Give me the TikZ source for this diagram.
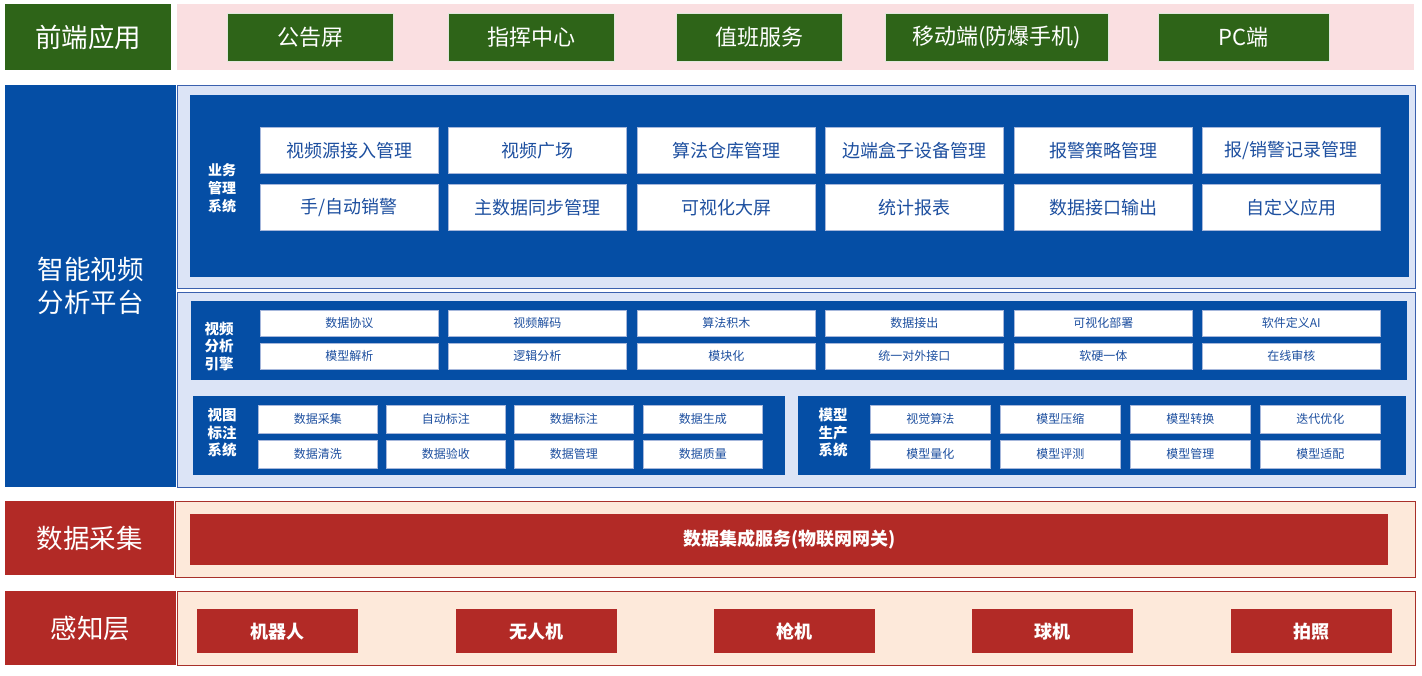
\documentclass[tikz,border=0pt]{standalone}
\usepackage{fontspec}
\setmainfont{Noto Sans CJK SC}
\usepackage{tikz}
\definecolor{frontgreen}{HTML}{2E6418}
\definecolor{frontpink}{HTML}{FADFE1}
\definecolor{platblue}{HTML}{054EA5}
\definecolor{platlight}{HTML}{DCE4F6}
\definecolor{platline}{HTML}{3A60AE}
\definecolor{textblue}{HTML}{1D4F9F}
\definecolor{datared}{HTML}{B22A26}
\definecolor{datapeach}{HTML}{FDE9DA}
\definecolor{dataline}{HTML}{A8302A}
\tikzset{
  layer/.style={anchor=north west, inner sep=0pt, text=white, align=center,
    font=\fontsize{26.5}{33}\selectfont},
  panel/.style={anchor=north west, inner sep=0pt},
  gbox/.style={anchor=north west, inner sep=0pt, fill=frontgreen, draw=white!85!frontgreen,
    line width=0.6pt, text=white, minimum height=48pt, font=\fontsize{22}{25}\selectfont},
  wbox/.style={anchor=north west, inner sep=0pt, fill=white, draw=platline!45,
    line width=0.6pt, text=textblue},
  sysname/.style={text=white, align=center, inner sep=0pt,
    font=\bfseries\fontsize{14.5}{17.5}\selectfont},
  rbox/.style={anchor=north west, inner sep=0pt, fill=datared, text=white,
    font=\bfseries\fontsize{18}{21}\selectfont}
}

\begin{document}
\begin{tikzpicture}[x=1pt,y=-1pt]
\useasboundingbox (0,0) rectangle (1422,675);

% front-end layer
\node [layer, fill=frontgreen, minimum width=166pt, minimum height=66pt] (front) at (5,4) {前端应用};
\node [panel, fill=frontpink, minimum width=1237pt, minimum height=66pt] (fpanel) at (177,4) {};
\node [gbox, minimum width=166pt] (board) at (227,13) {公告屏};
\node [gbox, minimum width=166pt] (command) at (448,13) {指挥中心};
\node [gbox, minimum width=166pt] (duty) at (676,13) {值班服务};
\node [gbox, minimum width=223pt] (mobile) at (885,13) {移动端(防爆手机)};
\node [gbox, minimum width=171pt] (pc) at (1158,13) {PC端};

% platform layer
\node [layer, fill=platblue, minimum width=171pt, minimum height=402pt] (platform) at (5,85) {智能视频\\分析平台};
\node [panel, fill=platlight, draw=platline, line width=0.8pt, minimum width=1238pt, minimum height=203pt] (upanel) at (177,85) {};
\node [panel, fill=platlight, draw=platline, line width=0.8pt, minimum width=1238pt, minimum height=195pt] (lpanel) at (177,292) {};

% business management system
\node [panel, fill=platblue, minimum width=1219pt, minimum height=182pt] (bizbox) at (190,95) {};
\node [sysname, font=\bfseries\fontsize{14}{18}\selectfont] (bizname) at (222,188) {业务\\管理\\系统};
\node [wbox, minimum width=178pt, minimum height=46pt, font=\fontsize{18}{21}\selectfont] (source) at (260,127) {视频源接入管理};
\node [wbox, minimum width=178pt, minimum height=46pt, font=\fontsize{18}{21}\selectfont] (square) at (448,127) {视频广场};
\node [wbox, minimum width=178pt, minimum height=46pt, font=\fontsize{18}{21}\selectfont] (store) at (637,127) {算法仓库管理};
\node [wbox, minimum width=178pt, minimum height=46pt, font=\fontsize{18}{21}\selectfont] (edgebox) at (825,127) {边端盒子设备管理};
\node [wbox, minimum width=178pt, minimum height=46pt, font=\fontsize{18}{21}\selectfont] (policy) at (1014,127) {报警策略管理};
\node [wbox, minimum width=178pt, minimum height=46pt, font=\fontsize{18}{21}\selectfont] (record) at (1202,127) {报/销警记录管理};
\node [wbox, minimum width=178pt, minimum height=46pt, font=\fontsize{18}{21}\selectfont] (cancel) at (260,184) {手/自动销警};
\node [wbox, minimum width=178pt, minimum height=46pt, font=\fontsize{18}{21}\selectfont] (master) at (448,184) {主数据同步管理};
\node [wbox, minimum width=178pt, minimum height=46pt, font=\fontsize{18}{21}\selectfont] (screen) at (637,184) {可视化大屏};
\node [wbox, minimum width=178pt, minimum height=46pt, font=\fontsize{18}{21}\selectfont] (stats) at (825,184) {统计报表};
\node [wbox, minimum width=178pt, minimum height=46pt, font=\fontsize{18}{21}\selectfont] (output) at (1014,184) {数据接口输出};
\node [wbox, minimum width=178pt, minimum height=46pt, font=\fontsize{18}{21}\selectfont] (custom) at (1202,184) {自定义应用};

% video analysis engine
\node [panel, fill=platblue, minimum width=1216pt, minimum height=79pt] (engbox) at (191,301) {};
\node [sysname] (engname) at (219,346) {视频\\分析\\引擎};
\node [wbox, minimum width=178pt, minimum height=26pt, font=\fontsize{12}{14}\selectfont] (protocol) at (260,310) {数据协议};
\node [wbox, minimum width=178pt, minimum height=26pt, font=\fontsize{12}{14}\selectfont] (decode) at (448,310) {视频解码};
\node [wbox, minimum width=178pt, minimum height=26pt, font=\fontsize{12}{14}\selectfont] (blocks) at (637,310) {算法积木};
\node [wbox, minimum width=178pt, minimum height=26pt, font=\fontsize{12}{14}\selectfont] (dataout) at (825,310) {数据接出};
\node [wbox, minimum width=178pt, minimum height=26pt, font=\fontsize{12}{14}\selectfont] (deploy) at (1014,310) {可视化部署};
\node [wbox, minimum width=178pt, minimum height=26pt, font=\fontsize{12}{14}\selectfont] (softai) at (1202,310) {软件定义AI};
\node [wbox, minimum width=178pt, minimum height=26pt, font=\fontsize{12}{14}\selectfont] (parse) at (260,343) {模型解析};
\node [wbox, minimum width=178pt, minimum height=26pt, font=\fontsize{12}{14}\selectfont] (logic) at (448,343) {逻辑分析};
\node [wbox, minimum width=178pt, minimum height=26pt, font=\fontsize{12}{14}\selectfont] (module) at (637,343) {模块化};
\node [wbox, minimum width=178pt, minimum height=26pt, font=\fontsize{12}{14}\selectfont] (iface) at (825,343) {统一对外接口};
\node [wbox, minimum width=178pt, minimum height=26pt, font=\fontsize{12}{14}\selectfont] (unity) at (1014,343) {软硬一体};
\node [wbox, minimum width=178pt, minimum height=26pt, font=\fontsize{12}{14}\selectfont] (review) at (1202,343) {在线审核};

% annotation system
\node [panel, fill=platblue, minimum width=592pt, minimum height=79pt] (tagbox) at (193,396) {};
\node [sysname] (tagname) at (222,433) {视图\\标注\\系统};
\node [wbox, minimum width=119pt, minimum height=28pt, font=\fontsize{12}{14}\selectfont] (collect) at (258,405) {数据采集};
\node [wbox, minimum width=119pt, minimum height=28pt, font=\fontsize{12}{14}\selectfont] (autotag) at (386,405) {自动标注};
\node [wbox, minimum width=119pt, minimum height=28pt, font=\fontsize{12}{14}\selectfont] (datatag) at (514,405) {数据标注};
\node [wbox, minimum width=119pt, minimum height=28pt, font=\fontsize{12}{14}\selectfont] (generate) at (643,405) {数据生成};
\node [wbox, minimum width=119pt, minimum height=28pt, font=\fontsize{12}{14}\selectfont] (clean) at (258,440) {数据清洗};
\node [wbox, minimum width=119pt, minimum height=28pt, font=\fontsize{12}{14}\selectfont] (accept) at (386,440) {数据验收};
\node [wbox, minimum width=119pt, minimum height=28pt, font=\fontsize{12}{14}\selectfont] (manage) at (514,440) {数据管理};
\node [wbox, minimum width=119pt, minimum height=28pt, font=\fontsize{12}{14}\selectfont] (quality) at (643,440) {数据质量};

% model production system
\node [panel, fill=platblue, minimum width=608pt, minimum height=79pt] (modbox) at (798,396) {};
\node [sysname] (modname) at (833,433) {模型\\生产\\系统};
\node [wbox, minimum width=120pt, minimum height=28pt, font=\fontsize{12}{14}\selectfont] (vision) at (870,405) {视觉算法};
\node [wbox, minimum width=120pt, minimum height=28pt, font=\fontsize{12}{14}\selectfont] (compress) at (1000,405) {模型压缩};
\node [wbox, minimum width=120pt, minimum height=28pt, font=\fontsize{12}{14}\selectfont] (convert) at (1130,405) {模型转换};
\node [wbox, minimum width=120pt, minimum height=28pt, font=\fontsize{12}{14}\selectfont] (iterate) at (1260,405) {迭代优化};
\node [wbox, minimum width=120pt, minimum height=28pt, font=\fontsize{12}{14}\selectfont] (quant) at (870,440) {模型量化};
\node [wbox, minimum width=120pt, minimum height=28pt, font=\fontsize{12}{14}\selectfont] (evaluate) at (1000,440) {模型评测};
\node [wbox, minimum width=120pt, minimum height=28pt, font=\fontsize{12}{14}\selectfont] (modmanage) at (1130,440) {模型管理};
\node [wbox, minimum width=120pt, minimum height=28pt, font=\fontsize{12}{14}\selectfont] (adapt) at (1260,440) {模型适配};

% data collection layer
\node [layer, fill=datared, minimum width=169pt, minimum height=74pt] (collectlayer) at (5,501) {数据采集};
\node [panel, fill=datapeach, draw=dataline, line width=1pt, minimum width=1240pt, minimum height=76pt] (cpanel) at (175,501) {};
\node [rbox, minimum width=1198pt, minimum height=51pt, font=\bfseries\fontsize{18}{21}\selectfont] (gateway) at (190,514) {数据集成服务(物联网网关)};

% perception layer
\node [layer, fill=datared, minimum width=171pt, minimum height=74pt] (sense) at (5,591) {感知层};
\node [panel, fill=datapeach, draw=dataline, line width=1pt, minimum width=1238pt, minimum height=74pt] (spanel) at (177,591) {};
\node [rbox, minimum width=161pt, minimum height=44pt] (robot) at (197,609) {机器人};
\node [rbox, minimum width=161pt, minimum height=44pt] (drone) at (456,609) {无人机};
\node [rbox, minimum width=161pt, minimum height=44pt] (gun) at (714,609) {枪机};
\node [rbox, minimum width=161pt, minimum height=44pt] (dome) at (972,609) {球机};
\node [rbox, minimum width=161pt, minimum height=44pt] (photo) at (1231,609) {拍照};
\end{tikzpicture}
\end{document}
